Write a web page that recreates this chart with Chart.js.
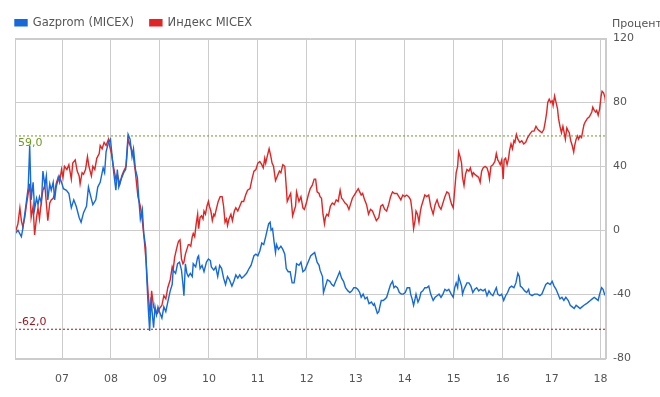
<!DOCTYPE html>
<html>
<head>
<meta charset="utf-8">
<script src="https://cdn.jsdelivr.net/npm/chart.js@4"></script>
<style>
  html, body { margin: 0; padding: 0; background: #fff; }
  #wrap { width: 660px; height: 397px; }
</style>
</head>
<body>
<div id="wrap"><canvas id="chart"></canvas></div>
<script>
// [year, percent change]
const gazprom = [
    [2006.05, -2], [2006.10, 0], [2006.17, -4], [2006.20, 1], [2006.26, 15], [2006.31, 27], [2006.34, 53],
    [2006.37, 19], [2006.41, 30], [2006.44, 13], [2006.48, 20], [2006.51, 16], [2006.54, 21], [2006.58, 17],
    [2006.61, 37], [2006.65, 28], [2006.68, 34], [2006.71, 19], [2006.75, 29], [2006.78, 25], [2006.82, 30],
    [2006.85, 19], [2006.88, 27], [2006.94, 34], [2006.99, 30], [2007.03, 26], [2007.09, 25], [2007.14, 23],
    [2007.19, 14], [2007.24, 19], [2007.29, 15], [2007.35, 8], [2007.39, 5], [2007.44, 11], [2007.50, 15],
    [2007.54, 27], [2007.58, 22], [2007.63, 16], [2007.69, 19], [2007.73, 27], [2007.78, 30], [2007.84, 39],
    [2007.87, 36], [2007.90, 49], [2007.95, 55], [2007.99, 57], [2008.03, 44], [2008.06, 35], [2008.10, 25],
    [2008.13, 38], [2008.16, 27], [2008.21, 32], [2008.26, 36], [2008.30, 38], [2008.33, 51], [2008.35, 60],
    [2008.39, 57], [2008.43, 46], [2008.46, 51], [2008.50, 38], [2008.54, 33], [2008.57, 19], [2008.60, 7],
    [2008.64, 13], [2008.67, -2], [2008.71, -11], [2008.73, -29], [2008.76, -48], [2008.79, -63], [2008.82, -42],
    [2008.84, -51], [2008.87, -61], [2008.90, -48], [2008.93, -53], [2008.96, -48], [2008.99, -51],
    [2009.04, -55], [2009.08, -48], [2009.12, -51], [2009.16, -45], [2009.21, -38], [2009.25, -34], [2009.27, -25],
    [2009.32, -27], [2009.36, -21], [2009.40, -20], [2009.44, -25], [2009.47, -34], [2009.49, -41], [2009.52, -21],
    [2009.55, -27], [2009.58, -29], [2009.62, -27], [2009.66, -29], [2009.68, -21], [2009.73, -23], [2009.77, -17],
    [2009.79, -16], [2009.82, -24], [2009.86, -22], [2009.90, -26], [2009.95, -20], [2009.99, -18], [2010.03, -19],
    [2010.05, -23], [2010.10, -25], [2010.14, -23], [2010.18, -29], [2010.22, -22], [2010.26, -24], [2010.30, -30],
    [2010.34, -34], [2010.38, -29], [2010.42, -31], [2010.47, -35], [2010.51, -32], [2010.55, -28], [2010.59, -30],
    [2010.63, -28], [2010.67, -30], [2010.71, -29], [2010.77, -27], [2010.82, -24], [2010.86, -22], [2010.92, -16],
    [2010.96, -15], [2011.00, -16], [2011.04, -13], [2011.08, -8], [2011.12, -9], [2011.16, -4], [2011.19, 0],
    [2011.22, 4], [2011.25, 5], [2011.27, 0], [2011.30, 1], [2011.33, -7], [2011.36, -14], [2011.38, -9],
    [2011.42, -12], [2011.47, -10], [2011.51, -12], [2011.55, -15], [2011.58, -24], [2011.62, -26], [2011.66, -26],
    [2011.70, -33], [2011.74, -33], [2011.77, -27], [2011.79, -21], [2011.84, -22], [2011.88, -20], [2011.92, -26],
    [2011.96, -25], [2012.00, -22], [2012.04, -19], [2012.08, -16], [2012.12, -15], [2012.16, -14], [2012.21, -20],
    [2012.25, -22], [2012.27, -25], [2012.32, -29], [2012.34, -39], [2012.38, -35], [2012.42, -31], [2012.47, -32],
    [2012.51, -34], [2012.55, -35], [2012.59, -32], [2012.63, -29], [2012.67, -26], [2012.71, -30], [2012.75, -32],
    [2012.79, -36], [2012.84, -38], [2012.88, -39], [2012.92, -38], [2012.96, -36], [2013.00, -36], [2013.04, -37],
    [2013.08, -39], [2013.11, -42], [2013.15, -40], [2013.19, -43], [2013.23, -42], [2013.27, -46], [2013.32, -45],
    [2013.36, -47], [2013.38, -46], [2013.41, -49], [2013.44, -52], [2013.47, -51], [2013.49, -48], [2013.52, -44],
    [2013.56, -44], [2013.60, -43], [2013.63, -42], [2013.66, -39], [2013.68, -37], [2013.71, -34], [2013.75, -32],
    [2013.78, -36], [2013.81, -35], [2013.85, -36], [2013.89, -39], [2013.93, -40], [2013.97, -40], [2014.01, -39],
    [2014.05, -36], [2014.10, -36], [2014.12, -40], [2014.15, -43], [2014.18, -47], [2014.21, -43], [2014.23, -40],
    [2014.27, -45], [2014.30, -43], [2014.33, -39], [2014.37, -38], [2014.41, -36], [2014.45, -36], [2014.49, -35],
    [2014.53, -40], [2014.58, -44], [2014.62, -42], [2014.66, -41], [2014.70, -40], [2014.74, -42], [2014.78, -40],
    [2014.82, -37], [2014.86, -38], [2014.90, -37], [2014.95, -40], [2014.99, -42], [2015.02, -36], [2015.05, -33],
    [2015.08, -36], [2015.10, -29], [2015.13, -32], [2015.16, -35], [2015.18, -40], [2015.21, -37], [2015.24, -35],
    [2015.27, -33], [2015.31, -33], [2015.35, -35], [2015.39, -39], [2015.43, -37], [2015.47, -36], [2015.51, -38],
    [2015.55, -37], [2015.60, -38], [2015.64, -37], [2015.68, -41], [2015.72, -38], [2015.76, -40], [2015.80, -41],
    [2015.84, -38], [2015.87, -36], [2015.90, -40], [2015.94, -41], [2015.98, -40], [2016.02, -44], [2016.06, -41],
    [2016.10, -39], [2016.14, -36], [2016.18, -35], [2016.23, -36], [2016.27, -33], [2016.31, -27], [2016.34, -29],
    [2016.36, -35], [2016.40, -36], [2016.45, -38], [2016.49, -39], [2016.53, -37], [2016.55, -40], [2016.60, -41],
    [2016.65, -40], [2016.71, -40], [2016.76, -41], [2016.80, -40], [2016.84, -37], [2016.88, -34], [2016.92, -33],
    [2016.97, -34], [2017.01, -32], [2017.05, -35], [2017.09, -37], [2017.13, -40], [2017.17, -43], [2017.21, -42],
    [2017.25, -44], [2017.29, -42], [2017.34, -44], [2017.38, -47], [2017.42, -48], [2017.46, -49], [2017.50, -47],
    [2017.54, -48], [2017.58, -49], [2017.62, -48], [2017.66, -47], [2017.71, -46], [2017.75, -45], [2017.79, -44],
    [2017.83, -43], [2017.87, -42], [2017.91, -43], [2017.95, -44], [2017.98, -40], [2018.02, -36], [2018.05, -37],
    [2018.08, -40], [2018.10, -41]
]

const micex = [
    [2006.05, -1], [2006.10, 4], [2006.14, 14], [2006.17, 6], [2006.20, 2], [2006.24, 8], [2006.27, 15],
    [2006.31, 23], [2006.34, 29], [2006.37, 8], [2006.41, 15], [2006.44, -3], [2006.48, 8], [2006.51, 14],
    [2006.54, 7], [2006.58, 19], [2006.61, 25], [2006.65, 28], [2006.68, 17], [2006.71, 6], [2006.75, 17],
    [2006.78, 19], [2006.82, 20], [2006.85, 23], [2006.88, 29], [2006.92, 33], [2006.95, 30], [2006.99, 38],
    [2007.02, 33], [2007.05, 40], [2007.10, 38], [2007.14, 41], [2007.19, 32], [2007.22, 42], [2007.27, 44],
    [2007.31, 37], [2007.35, 34], [2007.37, 29], [2007.41, 36], [2007.44, 35], [2007.48, 38], [2007.52, 46],
    [2007.55, 40], [2007.60, 34], [2007.63, 40], [2007.67, 38], [2007.71, 45], [2007.76, 48], [2007.78, 53],
    [2007.82, 51], [2007.86, 55], [2007.90, 53], [2007.95, 57], [2007.97, 53], [2008.01, 48], [2008.05, 40],
    [2008.10, 32], [2008.13, 35], [2008.18, 29], [2008.22, 34], [2008.26, 37], [2008.31, 40], [2008.35, 57],
    [2008.39, 53], [2008.45, 48], [2008.50, 36], [2008.55, 21], [2008.60, 15], [2008.64, 6], [2008.68, -6],
    [2008.72, -21], [2008.76, -40], [2008.80, -53], [2008.83, -38], [2008.87, -48], [2008.91, -51], [2008.95, -52],
    [2008.99, -49], [2009.04, -47], [2009.08, -41], [2009.12, -43], [2009.16, -36], [2009.21, -31], [2009.25, -23],
    [2009.27, -25], [2009.30, -17], [2009.33, -13], [2009.36, -9], [2009.38, -7], [2009.41, -6], [2009.44, -18],
    [2009.47, -21], [2009.49, -20], [2009.52, -15], [2009.55, -12], [2009.58, -9], [2009.60, -9], [2009.63, -10],
    [2009.66, -4], [2009.68, -2], [2009.71, -4], [2009.74, 4], [2009.77, 10], [2009.79, 1], [2009.82, 8],
    [2009.85, 9], [2009.88, 7], [2009.90, 12], [2009.93, 10], [2009.96, 15], [2009.99, 18], [2010.01, 15],
    [2010.04, 12], [2010.07, 6], [2010.10, 10], [2010.12, 9], [2010.15, 13], [2010.19, 18], [2010.23, 21],
    [2010.27, 21], [2010.30, 15], [2010.33, 5], [2010.36, 7], [2010.38, 3], [2010.41, 7], [2010.45, 10],
    [2010.48, 6], [2010.52, 12], [2010.55, 14], [2010.59, 12], [2010.63, 15], [2010.67, 18], [2010.71, 18],
    [2010.75, 22], [2010.79, 25], [2010.84, 26], [2010.88, 32], [2010.92, 37], [2010.96, 38], [2011.00, 42],
    [2011.04, 43], [2011.08, 41], [2011.11, 39], [2011.14, 45], [2011.16, 42], [2011.19, 46], [2011.23, 51],
    [2011.26, 47], [2011.29, 42], [2011.32, 40], [2011.36, 31], [2011.40, 34], [2011.44, 37], [2011.47, 36],
    [2011.51, 41], [2011.55, 40], [2011.58, 27], [2011.60, 18], [2011.64, 21], [2011.67, 23], [2011.71, 9],
    [2011.74, 12], [2011.77, 15], [2011.79, 24], [2011.84, 18], [2011.88, 21], [2011.92, 14], [2011.95, 13],
    [2011.99, 17], [2012.03, 22], [2012.07, 26], [2012.11, 28], [2012.15, 32], [2012.18, 32], [2012.21, 24],
    [2012.25, 23], [2012.27, 21], [2012.30, 20], [2012.33, 10], [2012.36, 4], [2012.38, 8], [2012.41, 10],
    [2012.44, 9], [2012.48, 15], [2012.52, 17], [2012.56, 16], [2012.60, 19], [2012.64, 18], [2012.68, 25],
    [2012.71, 20], [2012.74, 19], [2012.78, 17], [2012.82, 16], [2012.86, 13], [2012.89, 16], [2012.93, 20],
    [2012.97, 22], [2013.01, 24], [2013.05, 26], [2013.08, 24], [2013.11, 22], [2013.14, 23], [2013.18, 19],
    [2013.22, 16], [2013.26, 10], [2013.30, 13], [2013.34, 12], [2013.38, 9], [2013.42, 6], [2013.47, 8],
    [2013.51, 15], [2013.55, 16], [2013.59, 13], [2013.63, 12], [2013.67, 16], [2013.71, 21], [2013.75, 24],
    [2013.79, 23], [2013.84, 23], [2013.88, 21], [2013.92, 19], [2013.96, 22], [2014.00, 21], [2014.04, 22],
    [2014.08, 21], [2014.12, 19], [2014.15, 12], [2014.18, 1], [2014.21, 6], [2014.23, 12], [2014.26, 10],
    [2014.29, 5], [2014.32, 12], [2014.34, 15], [2014.37, 18], [2014.41, 22], [2014.45, 21], [2014.49, 22],
    [2014.53, 15], [2014.58, 10], [2014.62, 16], [2014.66, 19], [2014.70, 15], [2014.74, 13], [2014.78, 17],
    [2014.82, 21], [2014.86, 24], [2014.90, 23], [2014.93, 19], [2014.96, 16], [2014.99, 14], [2015.02, 25],
    [2015.05, 36], [2015.08, 40], [2015.10, 49], [2015.13, 46], [2015.16, 42], [2015.18, 33], [2015.21, 28],
    [2015.24, 35], [2015.27, 38], [2015.31, 37], [2015.34, 39], [2015.38, 34], [2015.40, 36], [2015.43, 35],
    [2015.47, 34], [2015.51, 33], [2015.54, 30], [2015.57, 37], [2015.60, 39], [2015.64, 40], [2015.68, 39],
    [2015.71, 36], [2015.73, 32], [2015.76, 40], [2015.80, 41], [2015.84, 43], [2015.87, 48], [2015.90, 44],
    [2015.92, 43], [2015.95, 41], [2015.98, 44], [2016.01, 32], [2016.03, 44], [2016.06, 45], [2016.09, 41],
    [2016.12, 45], [2016.14, 50], [2016.17, 54], [2016.20, 51], [2016.23, 56], [2016.25, 55], [2016.28, 60],
    [2016.31, 57], [2016.35, 55], [2016.39, 56], [2016.43, 54], [2016.47, 55], [2016.51, 58], [2016.55, 60],
    [2016.60, 62], [2016.64, 62], [2016.68, 65], [2016.72, 63], [2016.76, 62], [2016.80, 61], [2016.84, 63],
    [2016.87, 68], [2016.90, 74], [2016.92, 80], [2016.95, 82], [2016.98, 80], [2017.01, 81], [2017.03, 78],
    [2017.06, 84], [2017.09, 80], [2017.12, 76], [2017.14, 70], [2017.17, 65], [2017.20, 61], [2017.23, 65],
    [2017.25, 62], [2017.28, 57], [2017.31, 64], [2017.34, 62], [2017.36, 61], [2017.39, 56], [2017.42, 53],
    [2017.45, 49], [2017.47, 53], [2017.50, 57], [2017.53, 59], [2017.55, 57], [2017.58, 59], [2017.61, 58],
    [2017.64, 63], [2017.66, 66], [2017.69, 68], [2017.73, 70], [2017.77, 71], [2017.82, 74], [2017.84, 77],
    [2017.87, 75], [2017.90, 74], [2017.92, 75], [2017.95, 72], [2017.98, 76], [2018.01, 84], [2018.03, 87],
    [2018.06, 86], [2018.09, 83], [2018.10, 80]
]

const seriesNames = ['Gazprom (MICEX)', 'Индекс MICEX']
const yearTicks = [2007, 2008, 2009, 2010, 2011, 2012, 2013, 2014, 2015, 2016, 2017, 2018]
const yTicks = [-80, -40, 0, 40, 80, 120]
const levels = [59, -62]
const levelLabels = ['59,0', '-62,0']
const xRange = [2006.04, 2018.11]

const blue = '#1469dc'
const red = '#e42323'
const levelColors = ['#6b9c1e', '#a3141c']
const font = 'DejaVu Sans'
const legendPad = 16

function levelData(v) {
    return [[xRange[0], v], [xRange[1], v]]
}

// frame around the plot, level labels, axis caption
const extras = {
    id: 'extras',
    afterLayout(chart) {
        // legend starts flush with the plot's left edge
        chart.legend.left -= legendPad
    },
    afterDraw(chart) {
        const ctx = chart.ctx
        const a = chart.chartArea
        const y = chart.scales.y
        ctx.save()
        ctx.strokeStyle = '#cccccc'
        ctx.lineWidth = 1
        ctx.strokeRect(Math.round(a.left) + 0.5, Math.round(a.top) + 0.5,
            Math.round(a.right - a.left) - 1, Math.round(a.bottom - a.top))
        ctx.font = '11px "' + font + '"'
        ctx.textAlign = 'left'
        levels.forEach((v, i) => {
            const py = y.getPixelForValue(v)
            ctx.fillStyle = levelColors[i]
            ctx.textBaseline = v > 0 ? 'top' : 'bottom'
            ctx.fillText(levelLabels[i], a.left + 3, v > 0 ? py + 2 : py - 2)
        })
        ctx.fillStyle = '#555'
        ctx.textBaseline = 'alphabetic'
        ctx.fillText('Процент', y.left + 6, a.top - 12)
        ctx.restore()
    }
}

const options = {
    type: 'line',
    data: {
        datasets: [
            { label: seriesNames[0], data: gazprom, borderColor: blue, backgroundColor: blue },
            { label: seriesNames[1], data: micex, borderColor: red, backgroundColor: red },
            { label: 'l1', data: levelData(levels[0]), borderColor: levelColors[0], borderDash: [2, 2], borderWidth: 1 },
            { label: 'l2', data: levelData(levels[1]), borderColor: levelColors[1], borderDash: [2, 2], borderWidth: 1 }
        ]
    },
    options: {
        animation: false,
        responsive: true,
        maintainAspectRatio: false,
        layout: { padding: { top: 1, left: 15, right: 0, bottom: 0 } },
        elements: {
            point: { radius: 0 },
            line: { borderWidth: 1.4, tension: 0 }
        },
        plugins: {
            tooltip: { enabled: false },
            legend: {
                position: 'top',
                align: 'start',
                labels: {
                    filter: item => item.datasetIndex < 2,
                    boxWidth: 12,
                    boxHeight: 6,
                    padding: legendPad,
                    color: '#555',
                    font: { family: font, size: 11.5 }
                }
            }
        },
        scales: {
            x: {
                type: 'linear',
                min: xRange[0],
                max: xRange[1],
                afterBuildTicks: s => { s.ticks = yearTicks.map(v => ({ value: v })) },
                afterFit: s => { s.height = 39 },
                ticks: {
                    padding: 15,
                    color: '#555',
                    font: { family: font, size: 11 },
                    callback: v => String(v % 100).padStart(2, '0')
                },
                grid: { color: '#cccccc', drawTicks: false },
                border: { color: '#cccccc' }
            },
            y: {
                position: 'right',
                min: -80,
                max: 120,
                afterBuildTicks: s => { s.ticks = yTicks.map(v => ({ value: v })) },
                afterFit: s => { s.width = 54 },
                ticks: {
                    padding: 7,
                    color: '#555',
                    font: { family: font, size: 11 }
                },
                grid: { color: '#cccccc', drawTicks: false },
                border: { color: '#cccccc' }
            }
        }
    },
    plugins: [extras]
}

const chart = new Chart(document.getElementById('chart'), options)
</script>
</body>
</html>
